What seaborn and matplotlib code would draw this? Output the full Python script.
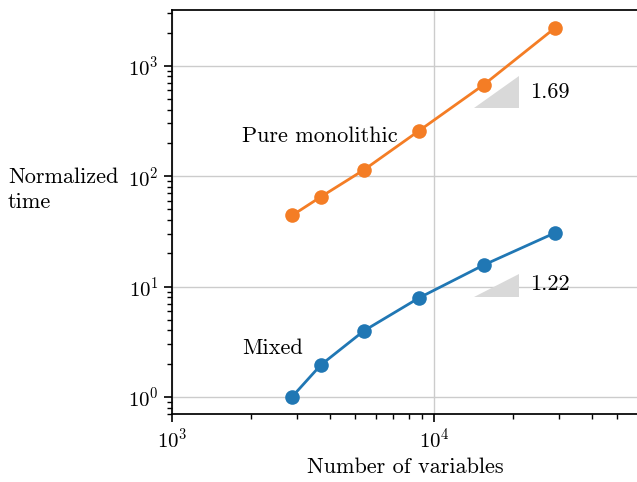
import matplotlib
matplotlib.use("Agg")
import matplotlib.pyplot as plt
import seaborn as sns
import pandas as pd
import numpy as np
from matplotlib.patches import Polygon

# data
n_vars = [2870, 3700, 5400, 8770, 15500, 29000]
t_mono = [44, 65, 114, 258, 675, 2210]
t_mixed = [1.0, 1.95, 3.97, 7.9, 15.7, 30.7]
series = ["Pure monolithic", "Mixed"]
slopes = [1.69, 1.22]

sns.set_style("ticks", {"axes.grid": True, "grid.color": ".8"})
plt.rcParams["font.family"] = ["cmr10"]
plt.rcParams["mathtext.fontset"] = "cm"
plt.rcParams["axes.formatter.use_mathtext"] = True
plt.rcParams["font.size"] = 16
plt.rcParams["text.color"] = "black"
plt.rcParams["axes.labelcolor"] = "black"
plt.rcParams["xtick.color"] = "black"
plt.rcParams["ytick.color"] = "black"

df = pd.DataFrame({
    "n": n_vars * 2,
    "t": t_mono + t_mixed,
    "method": [series[0]] * len(n_vars) + [series[1]] * len(n_vars),
})

fig = plt.figure(figsize=(6.37, 4.82), dpi=100)
ax = fig.add_axes([172 / 637, 68 / 482, 466 / 637, 404 / 482])

sns.lineplot(data=df, x="n", y="t", hue="method",
             palette={series[0]: "#f47d25", series[1]: "#2077b4"},
             marker="o", markersize=10.5, markeredgewidth=0, linewidth=2,
             legend=False, ax=ax)

ax.set_xscale("log")
ax.set_yscale("log")
ax.set_xlim(1e3, 6e4)
ax.set_ylim(0.7, 3200)
ax.grid(True, which="major", color="#cccccc", linewidth=1)
ax.grid(False, which="minor")
ax.tick_params(which="major", direction="out", length=6, width=1.2, labelsize=15)
ax.tick_params(which="minor", direction="out", length=3.5, width=1)
for s in ax.spines.values():
    s.set_linewidth(1.25)
    s.set_color("black")

ax.set_xlabel("Number of variables", fontsize=16)
ax.set_ylabel("Normalized\ntime", rotation=0, ha="left", va="center",
              linespacing=1.4, fontsize=16)
ax.yaxis.set_label_coords(-164 / 466, 0.555)

# slope triangles
x1, x2 = 14200, 21100
for y0, k in zip([417, 8.07], slopes):
    tri = Polygon([(x1, y0), (x2, y0), (x2, y0 * (x2 / x1) ** k)],
                  closed=True, facecolor="#d9d9d9", edgecolor="none", zorder=1)
    ax.add_patch(tri)
ax.text(23200, 570, f"{slopes[0]:.2f}", va="center", ha="left")
ax.text(23200, 10.4, f"{slopes[1]:.2f}", va="center", ha="left")

ax.text(1850, 228, series[0], va="center", ha="left")
ax.text(1850, 2.78, series[1], va="center", ha="left")

fig.savefig("out.png", dpi=100)
